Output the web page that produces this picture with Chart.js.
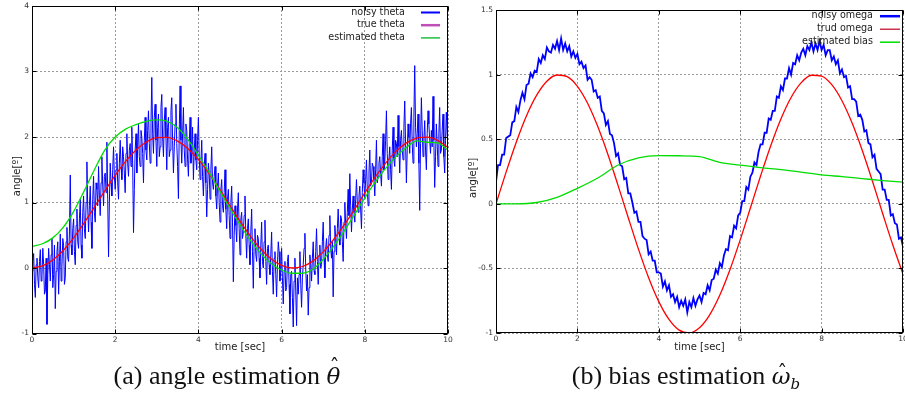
<!DOCTYPE html>
<html>
<head>
<meta charset="utf-8">
<script src="https://cdn.jsdelivr.net/npm/chart.js@4.4.1/dist/chart.umd.min.js"></script>
<style>
  body { margin: 0; background: #fff; overflow: hidden; }
  #wrap { position: relative; width: 905px; height: 396px; overflow: hidden; background: #fff; }
  #c1 { position: absolute; left: 0; top: 0; }
  #c2 { position: absolute; left: 455px; top: 0; }
  .cap { position: absolute; top: 361px; line-height: 30px; font-family: "Liberation Serif", serif;
         font-size: 26px; color: #111; white-space: nowrap; transform: translateX(-50%); }
  .cap .m { font-family: "DejaVu Serif", serif; font-size: 23px; position: relative; display: inline-block; line-height: 30px; }
  .cap .m .h { position: absolute; left: 2px; right: 0; top: -9px; text-align: center; font-style: normal; font-size: 20px; }
  .cap .m .h.low { top: -3px; }
  .cap sub { font-family: "DejaVu Serif", serif; font-size: 15px; vertical-align: -5px; line-height: 0; }
</style>
</head>
<body>
<div id="wrap">
  <canvas id="c1" width="455" height="360"></canvas>
  <canvas id="c2" width="450" height="360"></canvas>
  <div class="cap" style="left:227px">(a) angle estimation <i class="m">θ<span class="h">ˆ</span></i></div>
  <div class="cap" style="left:686px">(b) bias estimation <i class="m">ω<span class="h low">ˆ</span></i><sub><i>b</i></sub></div>
</div>
<script>
// ---- data ----
const timeTicks = [0, 2, 4, 6, 8, 10];
const thetaTicks = [-1, 0, 1, 2, 3, 4];
const omegaTicks = [-1, -0.5, 0, 0.5, 1, 1.5];

const thetaNames = ['nolsy theta', 'true theta', 'estimated theta'];
const omegaNames = ['nolsy omega', 'trud omega', 'estimated bias'];

// noisy theta, one sample every 0.02 s
const noisyThetaStep = 0.02;
const noisyTheta = [
  -0.05, 0.10, 0.22, -0.25, -0.45, 0.05, 0.15, -0.15, -0.30, 0.10, 0.28, -0.20, -0.12, 0.30, 0.05, -0.40, -0.35, 0.15, -0.86, -0.10,
  0.30, 0.05, -0.20, 0.20, 0.45, -0.30, -0.10, 0.35, -0.62, -0.05, 0.25, 0.40, -0.40, 0.10, 0.52, -0.20, 0.02, 0.45, 0.35, -0.25,
  -0.15, 0.40, 0.62, 0.15, 0.10, 0.55, 1.42, 0.35, 0.20, 0.60, 0.75, 0.25, 0.05, 0.65, 0.90, 0.40, 0.30, 0.75, 1.05, 0.35,
  0.15, 0.85, 1.10, 0.60, 0.45, 1.00, 1.62, 0.90, 0.55, 0.95, 1.25, 0.70, 0.30, 1.05, 1.40, 0.85, 0.70, 1.30, 1.20, 0.95,
  1.55, 1.10, 0.80, 1.30, 1.70, 1.25, 0.95, 1.40, 1.45, 1.15, 1.92, 1.05, 0.17, 1.00, 1.60, 1.30, 1.10, 1.50, 1.85, 1.40,
  1.20, 1.50, 1.75, 1.30, 1.05, 1.60, 1.95, 1.55, 1.35, 1.85, 1.70, 1.45, 1.15, 1.75, 2.05, 1.60, 1.40, 1.80, 1.90, 1.55,
  2.15, 1.60, 0.54, 1.20, 1.80, 2.05, 1.45, 1.85, 2.20, 1.70, 1.55, 2.10, 2.00, 1.75, 1.30, 1.95, 2.30, 1.80, 1.65, 2.10,
  2.40, 1.90, 1.60, 2.20, 2.91, 2.05, 1.75, 2.30, 2.50, 1.95, 1.55, 2.15, 2.35, 1.70, 1.85, 2.45, 2.65, 2.00, 1.70, 2.25,
  2.45, 2.00, 1.50, 2.15, 2.30, 1.70, 1.80, 2.40, 2.60, 1.95, 1.45, 1.85, 2.20, 2.50, 1.90, 1.55, 1.06, 2.10, 2.78, 1.95,
  1.60, 2.05, 2.45, 1.80, 1.55, 2.20, 2.10, 1.65, 1.40, 1.90, 2.30, 1.60, 1.75, 2.15, 1.35, 1.80, 2.05, 1.65, 1.50, 1.95,
  2.30, 1.70, 1.35, 1.60, 1.95, 1.40, 1.10, 1.55, 1.75, 1.30, 0.78, 1.20, 1.60, 1.45, 1.05, 1.50, 1.85, 1.30, 1.20, 1.40,
  1.55, 1.10, 0.90, 1.25, 1.45, 1.00, 0.70, 1.20, 1.35, 0.95, 0.85, 1.15, 1.50, 0.90, 0.60, 1.05, 1.20, 0.80, 0.45, 1.00,
  1.25, 0.70, -0.21, 0.50, 0.95, 0.65, 0.40, 0.90, 1.15, 0.60, 0.20, 0.75, 0.85, 0.45, 0.55, 0.80, 1.10, 0.50, 0.15, 0.60,
  0.75, 0.35, 0.05, 0.55, 0.90, 0.25, -0.31, 0.40, 0.60, 0.20, 0.10, 0.50, 0.45, 0.15, -0.15, 0.35, 0.70, 0.10, 0.00, 0.40,
  0.73, 0.10, -0.25, 0.30, 0.35, 0.05, -0.10, 0.20, 0.55, -0.05, -0.40, 0.15, 0.25, -0.10, -0.44, 0.05, 0.40, 0.25, -0.20, -0.05,
  0.30, -0.15, -0.55, -0.05, 0.10, -0.35, -0.30, 0.10, 0.20, -0.25, -0.70, -0.10, -0.05, -0.45, -0.90, -0.20, 0.15, -0.35, -0.88, -0.15,
  -0.40, -0.10, 0.25, -0.25, -0.60, -0.15, 0.05, 0.30, 0.53, 0.00, -0.35, -0.10, -0.72, -0.30, 0.20, 0.05, -0.20, 0.15, 0.40, -0.05,
  -0.10, 0.25, 0.60, 0.10, -0.25, 0.20, 0.35, 0.00, 0.05, 0.40, 0.70, 0.15, -0.15, 0.30, 0.45, 0.20, 0.10, 0.50, 0.80, 0.30,
  0.15, 0.40, -0.44, 0.25, 0.65, 0.45, 0.20, 0.60, 0.90, 0.55, 0.35, 0.80, 0.75, 0.40, 0.10, 0.70, 1.00, 0.65, 0.45, 0.85,
  1.20, 0.80, 1.44, 0.95, 0.55, 0.90, 1.10, 0.85, 0.70, 1.05, 1.35, 1.00, 0.85, 1.10, 1.25, 0.90, 0.60, 1.15, 1.50, 1.30,
  1.05, 1.35, 1.65, 1.20, 0.95, 1.45, 1.80, 1.25, 1.30, 1.60, 1.55, 1.35, 1.10, 1.50, 1.95, 1.30, 1.40, 1.60, 1.70, 1.45,
  1.25, 1.70, 2.05, 1.50, 1.60, 1.95, 2.40, 1.75, 1.35, 1.65, 1.85, 1.50, 1.20, 1.80, 2.15, 1.65, 1.55, 1.95, 1.90, 1.70,
  2.33, 1.85, 1.45, 1.95, 2.10, 1.80, 1.65, 2.15, 2.55, 1.90, 1.30, 1.80, 2.20, 2.00, 1.75, 2.20, 2.45, 1.90, 1.60, 2.30,
  3.09, 2.15, 1.85, 2.05, 2.35, 1.60, 0.88, 1.90, 2.60, 2.10, 1.70, 1.95, 2.25, 1.80, 1.50, 2.05, 2.40, 2.20, 1.95, 1.75,
  2.10, 1.85, 2.62, 1.95, 1.23, 1.70, 2.20, 1.90, 1.55, 2.05, 2.45, 1.75, 1.80, 2.10, 2.35, 1.70, 1.45, 1.95, 2.38, 2.05,
  1.85
];

// smooth curves, one sample every 0.25 s
const curveStep = 0.25;
const trueTheta = [
  0, 0.031, 0.122, 0.268, 0.46, 0.685, 0.929, 1.178, 1.416, 1.628,
  1.801, 1.924, 1.99, 1.994, 1.937, 1.821, 1.654, 1.446, 1.211, 0.962,
  0.716, 0.488, 0.291, 0.139, 0.04, 0.0, 0.023, 0.105, 0.246, 0.435,
  0.653, 0.892, 1.146, 1.389, 1.602, 1.781, 1.911, 1.984, 1.997, 1.948,
  1.839
];
const estTheta = [
  0.33, 0.37, 0.46, 0.62, 0.86, 1.17, 1.50, 1.80, 2.00, 2.12,
  2.19, 2.24, 2.26, 2.24, 2.14, 1.96, 1.72, 1.47, 1.19, 0.92,
  0.66, 0.42, 0.22, 0.07, -0.03, -0.08, -0.08, -0.02, 0.13, 0.33,
  0.56, 0.81, 1.07, 1.31, 1.52, 1.70, 1.84, 1.94, 1.92, 1.91,
  1.80
];
const trueOmega = [
  0, 0.247, 0.479, 0.682, 0.841, 0.949, 0.997, 0.984, 0.909, 0.778,
  0.598, 0.382, 0.141, -0.108, -0.351, -0.572, -0.757, -0.895, -0.978, -0.999,
  -0.959, -0.859, -0.706, -0.508, -0.279, -0.033, 0.215, 0.45, 0.657, 0.823,
  0.938, 0.995, 0.989, 0.922, 0.798, 0.625, 0.412, 0.174, -0.075, -0.319,
  -0.544
];

// noisy omega, one sample every 0.05 s
const noisyOmegaStep = 0.05;
const noisyOmega = [
  0.17, 0.30, 0.30, 0.38, 0.38, 0.51, 0.52, 0.53, 0.63, 0.64,
  0.75, 0.71, 0.80, 0.86, 0.81, 0.92, 0.93, 1.01, 0.98, 1.03,
  1.02, 1.12, 1.09, 1.15, 1.12, 1.21, 1.18, 1.17, 1.23, 1.20,
  1.26, 1.19, 1.28, 1.19, 1.24, 1.18, 1.22, 1.14, 1.18, 1.13,
  1.16, 1.08, 1.10, 1.05, 1.07, 0.96, 0.98, 0.96, 0.87, 0.88,
  0.82, 0.83, 0.72, 0.70, 0.61, 0.64, 0.54, 0.53, 0.47, 0.37,
  0.39, 0.30, 0.29, 0.19, 0.20, 0.08, 0.08, 0.01, -0.07, -0.06,
  -0.14, -0.14, -0.25, -0.27, -0.28, -0.39, -0.37, -0.44, -0.44, -0.53,
  -0.53, -0.54, -0.64, -0.60, -0.67, -0.63, -0.72, -0.70, -0.76, -0.72,
  -0.80, -0.75, -0.79, -0.74, -0.84, -0.76, -0.80, -0.73, -0.79, -0.74,
  -0.71, -0.76, -0.69, -0.70, -0.63, -0.67, -0.59, -0.58, -0.51, -0.54,
  -0.46, -0.49, -0.40, -0.35, -0.36, -0.25, -0.26, -0.17, -0.19, -0.09,
  -0.07, 0.02, 0.02, 0.13, 0.11, 0.21, 0.24, 0.32, 0.30, 0.40,
  0.46, 0.46, 0.55, 0.55, 0.66, 0.65, 0.72, 0.72, 0.83, 0.82,
  0.91, 0.88, 0.97, 0.97, 1.05, 1.00, 1.09, 1.08, 1.15, 1.11,
  1.17, 1.20, 1.15, 1.22, 1.19, 1.25, 1.18, 1.24, 1.19, 1.26,
  1.19, 1.23, 1.15, 1.19, 1.19, 1.11, 1.14, 1.08, 1.11, 1.01,
  1.04, 0.98, 0.99, 0.90, 0.91, 0.81, 0.81, 0.79, 0.68, 0.69,
  0.65, 0.56, 0.57, 0.47, 0.46, 0.36, 0.38, 0.27, 0.25, 0.23,
  0.11, 0.11, 0.03, 0.03, -0.09, -0.08, -0.15, -0.16, -0.27, -0.26,
  -0.33
];

// estimated bias, one sample every 0.5 s
const biasStep = 0.5;
const estBias = [
  0, 0.0, 0.01, 0.05, 0.12, 0.2, 0.3, 0.355, 0.373, 0.372,
  0.365, 0.32, 0.30, 0.28, 0.265, 0.245, 0.224, 0.21, 0.195, 0.18,
  0.167
];

// ---- helpers ----
function toPoints(values, step) {
  return values.map(function (v, i) { return { x: i * step, y: v }; });
}

const tickFont = { family: 'DejaVu Sans', size: 7.5 };
const titleFont = { family: 'DejaVu Sans', size: 10 };

// gnuplot style frame, inner ticks and key
const framePlugin = {
  id: 'frame',
  afterDatasetsDraw(chart, args, opts) {
    const ctx = chart.ctx;
    const a = chart.chartArea;
    const L = Math.round(a.left) + 0.5, R = Math.round(a.right) - 0.5;
    const T = Math.round(a.top) + 0.5, B = Math.round(a.bottom) - 0.5;
    ctx.save();
    ctx.strokeStyle = '#000';
    ctx.lineWidth = 1;
    ctx.setLineDash([]);
    ctx.strokeRect(L, T, R - L, B - T);
    ctx.beginPath();
    chart.scales.x.ticks.forEach(function (t) {
      const px = Math.round(chart.scales.x.getPixelForValue(t.value)) + 0.5;
      ctx.moveTo(px, B); ctx.lineTo(px, B - 4);
      ctx.moveTo(px, T); ctx.lineTo(px, T + 4);
    });
    chart.scales.y.ticks.forEach(function (t) {
      const py = Math.round(chart.scales.y.getPixelForValue(t.value)) + 0.5;
      ctx.moveTo(L, py); ctx.lineTo(L + 4, py);
      ctx.moveTo(R, py); ctx.lineTo(R - 4, py);
    });
    ctx.stroke();

    // key
    ctx.font = '9.6px "DejaVu Sans"';
    ctx.textAlign = 'right';
    ctx.textBaseline = 'middle';
    chart.data.datasets.forEach(function (ds, i) {
      const y = a.top + opts.top + i * opts.step;
      ctx.fillStyle = '#222';
      ctx.fillText(ds.label, a.right - opts.textRight, y);
      ctx.strokeStyle = opts.colors[i];
      ctx.lineWidth = opts.widths[i];
      ctx.beginPath();
      ctx.moveTo(a.right - opts.lineFrom, y + 0.5);
      ctx.lineTo(a.right - opts.lineTo, y + 0.5);
      ctx.stroke();
    });
    ctx.restore();
  }
};

function makeChart(id, datasets, yTicks, yTitlePad, yWidth, padding, key) {
  const ctx = document.getElementById(id).getContext('2d');
  return new Chart(ctx, {
    type: 'line',
    data: { datasets: datasets },
    options: {
      responsive: false,
      animation: false,
      events: [],
      layout: { padding: padding },
      plugins: { legend: { display: false }, tooltip: { enabled: false }, frame: key },
      elements: { point: { radius: 0 } },
      scales: {
        x: {
          type: 'linear',
          min: timeTicks[0],
          max: timeTicks[timeTicks.length - 1],
          afterBuildTicks: function (s) { s.ticks = timeTicks.map(function (v) { return { value: v }; }); },
          afterFit: function (s) { s.height = key.xHeight; s.paddingLeft = 0; s.paddingRight = 0; },
          ticks: { font: tickFont, color: '#333', padding: 2, maxRotation: 0, autoSkip: false,
                   callback: function (v) { return String(v); } },
          grid: { color: '#9a9a9a', lineWidth: 1, drawTicks: false },
          border: { display: false, dash: [2, 2] },
          title: { display: true, text: 'time [sec]', font: titleFont, color: '#222', padding: { top: 0, bottom: 7 } }
        },
        y: {
          type: 'linear',
          min: yTicks[0],
          max: yTicks[yTicks.length - 1],
          afterBuildTicks: function (s) { s.ticks = yTicks.map(function (v) { return { value: v }; }); },
          afterFit: function (s) { s.width = yWidth; s.paddingTop = 0; s.paddingBottom = 0; },
          ticks: { font: tickFont, color: '#333', padding: 3, autoSkip: false,
                   callback: function (v) { return String(v); } },
          grid: { color: '#9a9a9a', lineWidth: 1, drawTicks: false },
          border: { display: false, dash: [2, 2] },
          title: { display: true, text: 'angle[º]    ', font: titleFont, color: '#222', padding: { top: yTitlePad, bottom: 0 } }
        }
      }
    },
    plugins: [framePlugin]
  });
}

makeChart('c1', [
  { label: thetaNames[0], data: toPoints(noisyTheta, noisyThetaStep), borderColor: '#0000ff', borderWidth: 1, order: 3 },
  { label: thetaNames[1], data: toPoints(trueTheta, curveStep), borderColor: '#ff0000', borderWidth: 1.3, cubicInterpolationMode: 'monotone', order: 2 },
  { label: thetaNames[2], data: toPoints(estTheta, curveStep), borderColor: '#00dd00', borderWidth: 1.3, cubicInterpolationMode: 'monotone', order: 1 }
], thetaTicks, 11, 32, { top: 6, right: 7, left: 0, bottom: 0 },
  { top: 6, step: 12.7, textRight: 43, lineFrom: 27, lineTo: 8, xHeight: 26.5,
    colors: ['#0000ff', '#c050b8', '#20c040'], widths: [2, 2.5, 1.5] });

makeChart('c2', [
  { label: omegaNames[0], data: toPoints(noisyOmega, noisyOmegaStep), borderColor: '#0000ff', borderWidth: 1.8, order: 3 },
  { label: omegaNames[1], data: toPoints(trueOmega, curveStep), borderColor: '#ff0000', borderWidth: 1.3, cubicInterpolationMode: 'monotone', order: 2 },
  { label: omegaNames[2], data: toPoints(estBias, biasStep), borderColor: '#00dd00', borderWidth: 1.3, cubicInterpolationMode: 'monotone', order: 1 }
], omegaTicks, 12, 41, { top: 10, right: 2, left: 0, bottom: 0 },
  { top: 5.7, step: 13, textRight: 30, lineFrom: 23, lineTo: 3, xHeight: 27,
    colors: ['#0000ff', '#c00020', '#00dd00'], widths: [2.5, 1.2, 1.5] });
</script>
</body>
</html>
